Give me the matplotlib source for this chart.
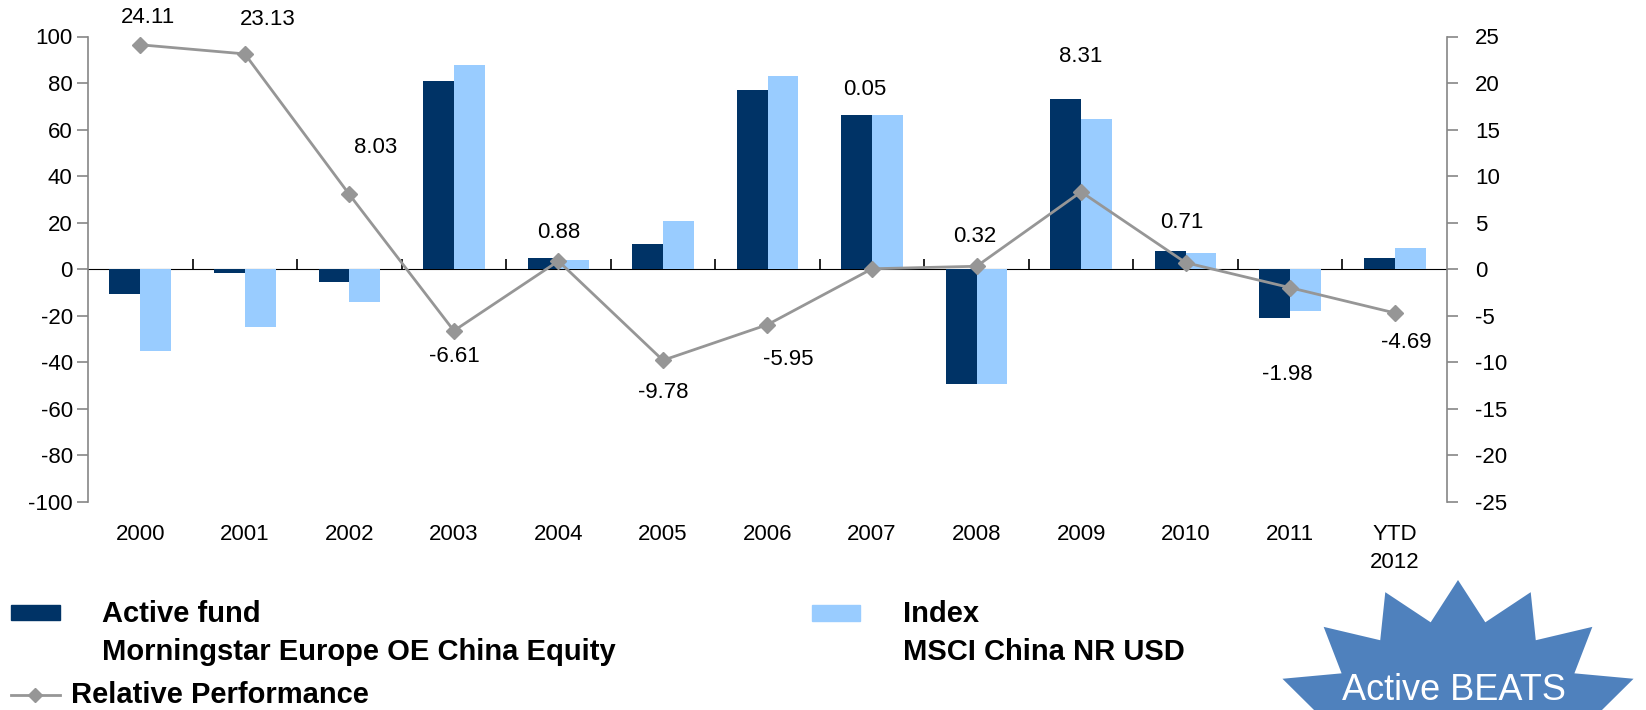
import numpy as np
import matplotlib
matplotlib.use("Agg")
import matplotlib.pyplot as plt
from matplotlib.patches import Rectangle, Polygon
from matplotlib.lines import Line2D

plt.rcParams['font.family'] = ['Liberation Sans', 'DejaVu Sans']
plt.rcParams['axes.unicode_minus'] = False

# ---- data ----
categories = ["2000", "2001", "2002", "2003", "2004", "2005", "2006",
              "2007", "2008", "2009", "2010", "2011", "YTD\n2012"]
active_fund = [-10.6, -1.7, -5.3, 80.9, 4.9, 10.9, 77.1, 66.4, -49.4, 73.3, 7.8, -20.8, 4.9]
index_ret = [-35.3, -24.8, -14.1, 87.6, 4.0, 20.6, 83.0, 66.4, -49.4, 64.6, 6.9, -17.8, 9.1]
relative_perf = [24.11, 23.13, 8.03, -6.61, 0.88, -9.78, -5.95, 0.05, 0.32, 8.31, 0.71, -1.98, -4.69]
left_ticks = [-100, -80, -60, -40, -20, 0, 20, 40, 60, 80, 100]
right_ticks = [-25, -20, -15, -10, -5, 0, 5, 10, 15, 20, 25]

# label placement (pixel offsets from each marker)
label_offsets = [(8, 27), (23, 34), (26, 47), (0, -26), (0, 29), (0, -32), (21, -35),
                 (-7, 179), (-2, 30), (0, 135), (-4, 40), (-3, -87), (12, -30)]

DARK = "#003366"
LIGHT = "#99CCFF"
LINE = "#969696"
SPINE = "#868686"

W, H = 1646, 710
fig = plt.figure(figsize=(W / 100, H / 100), dpi=100)


def fx(px):
    return px / W


def fy(py):
    return 1 - py / H


ax = fig.add_axes([fx(88), fy(502), fx(1447) - fx(88), fy(36.5) - fy(502)])
x = np.arange(len(categories))
bw = 0.295
ax.bar(x - bw / 2, active_fund, bw, color=DARK, zorder=2)
ax.bar(x + bw / 2, index_ret, bw, color=LIGHT, zorder=2)
ax.set_xlim(-0.5, len(categories) - 0.5)
ax.set_ylim(-100, 100)
ax.set_yticks(left_ticks)
ax.tick_params(axis='y', length=8, width=1.2, color=SPINE, labelsize=16, pad=3)
ax.set_xticks(x)
ax.set_xticklabels(categories, linespacing=1.4)
ax.tick_params(axis='x', length=0, labelsize=16, pad=16)
for s in ("top", "bottom", "right"):
    ax.spines[s].set_visible(False)
ax.spines["left"].set_color(SPINE)
ax.spines["left"].set_linewidth(1.2)

# zero line with category separators
sec = ax.secondary_xaxis(0.5)
sec.set_xticks(np.arange(0.5, len(categories) - 1, 1.0))
sec.set_xticklabels([])
sec.tick_params(axis='x', length=7, width=1.2, color='black', direction='out')
sec.spines['bottom'].set_color('black')
sec.spines['bottom'].set_linewidth(1.5)

ax2 = ax.twinx()
ax2.set_ylim(-25, 25)
ax2.set_yticks(right_ticks)
ax2.tick_params(axis='y', length=8, width=1.2, color=SPINE, labelsize=16, pad=12)
for s in ("top", "bottom", "left"):
    ax2.spines[s].set_visible(False)
ax2.spines["right"].set_color(SPINE)
ax2.spines["right"].set_linewidth(1.2)
ax2.plot(x, relative_perf, color=LINE, lw=2, marker='D', ms=8, mec=LINE, mfc=LINE, zorder=3)
for xi, v, (dx, dy) in zip(x, relative_perf, label_offsets):
    ax2.annotate(f"{v:.2f}", (xi, v), xytext=(dx, dy), textcoords='offset pixels',
                 ha='center', va='center', fontsize=16, color='black')

# ---- legend ----
LFS = 21
fig.add_artist(Rectangle((fx(10.5), fy(620)), fx(60) - fx(10.5), fy(605) - fy(620),
                         transform=fig.transFigure, color=DARK))
fig.text(fx(102), fy(614), "Active fund", fontsize=LFS, fontweight='bold', va='center')
fig.text(fx(102), fy(652), "Morningstar Europe OE China Equity", fontsize=LFS,
         fontweight='bold', va='center')
fig.add_artist(Rectangle((fx(812), fy(621)), fx(860) - fx(812), fy(605) - fy(621),
                         transform=fig.transFigure, color=LIGHT))
fig.text(fx(903), fy(614), "Index", fontsize=LFS, fontweight='bold', va='center')
fig.text(fx(903), fy(652), "MSCI China NR USD", fontsize=LFS, fontweight='bold', va='center')
fig.add_artist(Line2D([fx(10.5), fx(60)], [fy(695), fy(695)], transform=fig.transFigure,
                      color=LINE, lw=2))
fig.add_artist(Line2D([fx(35)], [fy(695)], transform=fig.transFigure, marker='D',
                      ms=7, color=LINE, lw=0))
fig.text(fx(71), fy(695), "Relative Performance", fontsize=LFS, fontweight='bold', va='center')

# ---- starburst badge ----
n_pts = 16
cx, cy = 1458, 740
ang = np.pi / 2 + np.arange(2 * n_pts) * np.pi / n_pts
rx = np.where(np.arange(2 * n_pts) % 2 == 0, 190, 140)
ry = np.where(np.arange(2 * n_pts) % 2 == 0, 160, 120)
px = cx + rx * np.cos(ang)
py = cy - ry * np.sin(ang)
star = Polygon(np.column_stack([fx(px), fy(py)]), closed=True, transform=fig.transFigure,
               facecolor="#4F81BD", edgecolor="none")
fig.add_artist(star)
fig.text(fx(1454), fy(690), "Active BEATS", fontsize=26, color='white',
         ha='center', va='center')

fig.savefig("out.png", dpi=100)
